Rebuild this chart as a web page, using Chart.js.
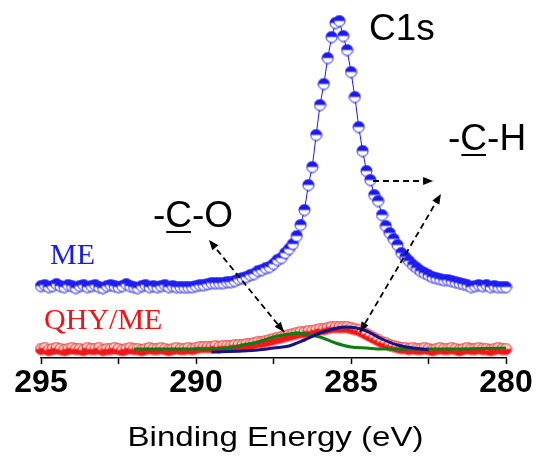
<!DOCTYPE html>
<html>
<head>
<meta charset="utf-8">
<script src="https://cdn.jsdelivr.net/npm/chart.js@4.4.1/dist/chart.umd.min.js"></script>
<style>
  html, body { margin: 0; padding: 0; background: #fff; }
  #wrap { width: 538px; height: 457px; }
</style>
</head>
<body>
<div id="wrap"><canvas id="c1s" width="538" height="457"></canvas></div>
<script>
// XPS C1s spectra: ME (blue) and QHY/ME (red) with two fitted components

// binding energy grid of the measured points (eV)
var energies = [
  295, 294.875, 294.75, 294.625, 294.5, 294.375, 294.25, 294.125,
  294, 293.875, 293.75, 293.625, 293.5, 293.375, 293.25, 293.125,
  293, 292.875, 292.75, 292.625, 292.5, 292.375, 292.25, 292.125,
  292, 291.875, 291.75, 291.625, 291.5, 291.375, 291.25, 291.125,
  291, 290.875, 290.75, 290.625, 290.5, 290.375, 290.25, 290.125,
  290, 289.875, 289.75, 289.625, 289.5, 289.375, 289.25, 289.125,
  289, 288.875, 288.75, 288.625, 288.5, 288.375, 288.25, 288.125,
  288, 287.875, 287.75, 287.625, 287.5, 287.375, 287.25, 287.125,
  287, 286.875, 286.75, 286.625, 286.5, 286.375, 286.25, 286.125,
  286, 285.875, 285.75, 285.625, 285.5, 285.375, 285.25, 285.125,
  285, 284.875, 284.75, 284.625, 284.5, 284.375, 284.25, 284.125,
  284, 283.875, 283.75, 283.625, 283.5, 283.375, 283.25, 283.125,
  283, 282.875, 282.75, 282.625, 282.5, 282.375, 282.25, 282.125,
  282, 281.875, 281.75, 281.625, 281.5, 281.375, 281.25, 281.125,
  281, 280.875, 280.75, 280.625, 280.5, 280.375, 280.25, 280.125,
  280
];

// ME intensity (arb. units, offset curve)
var meValues = [
  72, 73, 71, 72, 74, 72, 71, 73,
  72, 70, 72, 73, 71, 72, 73, 71,
  70, 72, 73, 72, 71, 72, 74, 72,
  71, 70, 72, 73, 71, 72, 71, 72,
  73, 71, 72, 71, 71, 71, 71, 71,
  72, 73, 73, 74, 75, 75, 75, 75,
  76, 76, 77, 79, 80, 81, 83, 84,
  87, 88, 90, 91, 94, 98, 100, 105,
  109, 114, 122, 133, 148, 173, 191, 223,
  253, 274, 300, 321, 335, 337, 322, 308,
  286, 261, 231, 207, 187, 178, 163, 157,
  143, 132, 125, 119, 113, 105, 101, 97,
  93, 90, 87, 85, 83, 81, 80, 79,
  78, 78, 77, 76, 75, 74, 73, 71,
  72, 73, 72, 73, 71, 72, 71, 71,
  71
];

// QHY/ME intensity (arb. units)
var qhyValues = [
  9, 10, 8, 9, 10, 9, 8, 9,
  10, 9, 9, 8, 10, 9, 9, 10,
  8, 9, 9, 10, 9, 8, 9, 10,
  9, 9, 8, 9, 10, 9, 9, 10,
  9, 8, 9, 10, 9, 9, 10, 9,
  10, 11, 11, 11, 11, 12, 11, 12,
  12, 12, 13, 13, 13, 14, 14, 15,
  16, 16, 17, 18, 19, 20, 21, 22,
  23, 24, 25, 26, 26, 27, 27, 28,
  29, 29, 30, 31, 31, 31, 31, 31,
  30, 29, 28, 26, 24, 22, 20, 18,
  16, 15, 13, 12, 11, 10, 10, 9,
  10, 9, 9, 10, 9, 8, 9, 10,
  9, 9, 10, 9, 8, 9, 10, 9,
  9, 10, 9, 9, 8, 9, 10, 9,
  9
];

// fitted component -C-O (green)
var coEnergies = [292, 290, 289, 288.5, 288, 287.5, 287, 286.75, 286.5, 286, 285.5, 285, 284.5, 284, 282, 280];
var coValues   = [9, 9, 10, 13, 16, 21, 24, 25, 24, 21, 15, 11, 10, 9, 9, 10];

// fitted component -C-H (navy)
var chEnergies = [289.5, 288.5, 288, 287.5, 287, 286.5, 286, 285.5, 285.2, 284.9, 284.5, 284, 283.5, 283, 282.5];
var chValues   = [6, 7, 8, 10, 12, 18, 25, 29.5, 31, 30.5, 27, 19, 13, 10, 8];

var xTicks = [295, 290, 285, 280];

function pairs(xs, ys) {
  return xs.map(function (x, i) { return { x: x, y: ys[i] }; });
}

// half filled circle marker (top or bottom half filled)
function halfMarker(fillTop, fill, empty, edge) {
  var c = document.createElement('canvas');
  c.width = 13; c.height = 13;
  var g = c.getContext('2d');
  var r = 5.5;
  g.beginPath(); g.arc(6.5, 6.5, r, 0, 2 * Math.PI); g.fillStyle = empty; g.fill();
  g.beginPath();
  if (fillTop) g.arc(6.5, 6.5, r, Math.PI, 2 * Math.PI); else g.arc(6.5, 6.5, r, 0, Math.PI);
  g.closePath(); g.fillStyle = fill; g.fill();
  g.beginPath(); g.arc(6.5, 6.5, r, 0, 2 * Math.PI);
  g.strokeStyle = edge; g.lineWidth = 1; g.stroke();
  return c;
}

var BLUE = '#1a1aee';
var RED = '#f01414';
var blueMarker = halfMarker(true, BLUE, '#ffffff', BLUE);
var redMarker = halfMarker(false, RED, '#f6d2cc', RED);

function arrowHead(ctx, xa, ya, xb, yb) {
  var a = Math.atan2(yb - ya, xb - xa), L = 10, W = 4;
  ctx.beginPath();
  ctx.moveTo(xb, yb);
  ctx.lineTo(xb - L * Math.cos(a) + W * Math.sin(a), yb - L * Math.sin(a) - W * Math.cos(a));
  ctx.lineTo(xb - L * Math.cos(a) - W * Math.sin(a), yb - L * Math.sin(a) + W * Math.cos(a));
  ctx.closePath();
  ctx.fill();
}

function dashedArrow(ctx, x1, y1, x2, y2, both) {
  ctx.save();
  ctx.strokeStyle = '#000'; ctx.fillStyle = '#000';
  ctx.lineWidth = 1.8;
  ctx.setLineDash([6, 4]);
  ctx.beginPath(); ctx.moveTo(x1, y1); ctx.lineTo(x2, y2); ctx.stroke();
  ctx.setLineDash([]);
  arrowHead(ctx, x1, y1, x2, y2);
  if (both) arrowHead(ctx, x2, y2, x1, y1);
  ctx.restore();
}

// "-C-X" with the carbon underlined
function bondLabel(ctx, pre, atom, post, x, y) {
  ctx.save();
  ctx.font = '37px "Liberation Sans", Arial, sans-serif';
  ctx.fillStyle = '#000';
  ctx.textBaseline = 'alphabetic';
  ctx.textAlign = 'left';
  var w1 = ctx.measureText(pre).width;
  var w2 = ctx.measureText(atom).width;
  ctx.fillText(pre, x, y);
  ctx.fillText(atom, x + w1, y);
  ctx.fillText(post, x + w1 + w2, y);
  ctx.fillRect(x + w1 + 1, y + 4, w2 - 2, 2);
  ctx.restore();
}

var annotations = {
  id: 'xpsAnnotations',
  afterDraw: function (chart) {
    var ctx = chart.ctx;
    var xs = chart.scales.x, ys = chart.scales.y;
    function px(e) { return xs.getPixelForValue(e); }
    function py(v) { return ys.getPixelForValue(v); }

    ctx.save();
    ctx.textAlign = 'left';
    ctx.textBaseline = 'alphabetic';

    ctx.fillStyle = '#000';
    ctx.font = '37px "Liberation Sans", Arial, sans-serif';
    ctx.fillText('C1s', px(284.42), py(318));

    bondLabel(ctx, '-', 'C', '-H', px(281.87), py(208));
    bondLabel(ctx, '-', 'C', '-O', px(291.39), py(131));

    ctx.font = '30px "Liberation Serif", "Times New Roman", serif';
    ctx.fillStyle = BLUE;
    ctx.fillText('ME', px(294.71), py(94));
    ctx.fillStyle = RED;
    ctx.fillText('QHY/ME', px(294.9), py(29));

    dashedArrow(ctx, px(287.16), py(26), px(289.58), py(118), true);
    dashedArrow(ctx, px(284.71), py(26), px(282.10), py(164), true);
    dashedArrow(ctx, px(284.29), py(177), px(282.35), py(177), false);

    // axis title, slightly widened like the original figure
    var area = chart.chartArea;
    ctx.fillStyle = '#000';
    ctx.font = '28px "Liberation Sans", Arial, sans-serif';
    var title = 'Binding Energy (eV)';
    var tw = ctx.measureText(title).width;
    ctx.translate((area.left + area.right) / 2 + 2, area.bottom + 88);
    ctx.scale(296 / tw, 1);
    ctx.textAlign = 'center';
    ctx.fillText(title, 0, 0);
    ctx.restore();
  }
};

new Chart(document.getElementById('c1s').getContext('2d'), {
  type: 'scatter',
  data: {
    datasets: [
      {
        label: '-C-H fit',
        data: pairs(chEnergies, chValues),
        showLine: true,
        borderColor: '#12128c',
        borderWidth: 3,
        pointRadius: 0,
        cubicInterpolationMode: 'monotone',
        order: 1
      },
      {
        label: '-C-O fit',
        data: pairs(coEnergies, coValues),
        showLine: true,
        borderColor: '#0b7d12',
        borderWidth: 3,
        pointRadius: 0,
        cubicInterpolationMode: 'monotone',
        order: 2
      },
      {
        label: 'QHY/ME',
        data: pairs(energies, qhyValues),
        showLine: true,
        borderColor: RED,
        borderWidth: 1,
        pointStyle: redMarker,
        pointRadius: 5.5,
        order: 3
      },
      {
        label: 'ME',
        data: pairs(energies, meValues),
        showLine: true,
        borderColor: BLUE,
        borderWidth: 1,
        pointStyle: blueMarker,
        pointRadius: 5.5,
        order: 4
      }
    ]
  },
  options: {
    responsive: false,
    animation: false,
    devicePixelRatio: 1,
    clip: false,
    layout: { padding: { left: 41, right: 32, top: 10, bottom: 0 } },
    plugins: {
      legend: { display: false },
      tooltip: { enabled: false }
    },
    scales: {
      x: {
        type: 'linear',
        reverse: true,
        min: 280,
        max: 295,
        border: { display: true, color: '#000', width: 1.5 },
        grid: { display: true, drawOnChartArea: false, drawTicks: true, tickLength: 6, tickColor: '#000', tickWidth: 1.5 },
        ticks: {
          stepSize: 2.5,
          autoSkip: false,
          maxRotation: 0,
          padding: 0,
          color: '#000',
          font: { family: '"Liberation Sans Narrow", "Liberation Sans", Arial, sans-serif', size: 32, weight: 'bold' },
          callback: function (v) { return xTicks.indexOf(v) >= 0 ? String(v) : ''; }
        },
        afterFit: function (scale) { scale.height = 99; }
      },
      y: {
        display: false,
        min: 0,
        max: 348
      }
    }
  },
  plugins: [annotations]
});
</script>
</body>
</html>
